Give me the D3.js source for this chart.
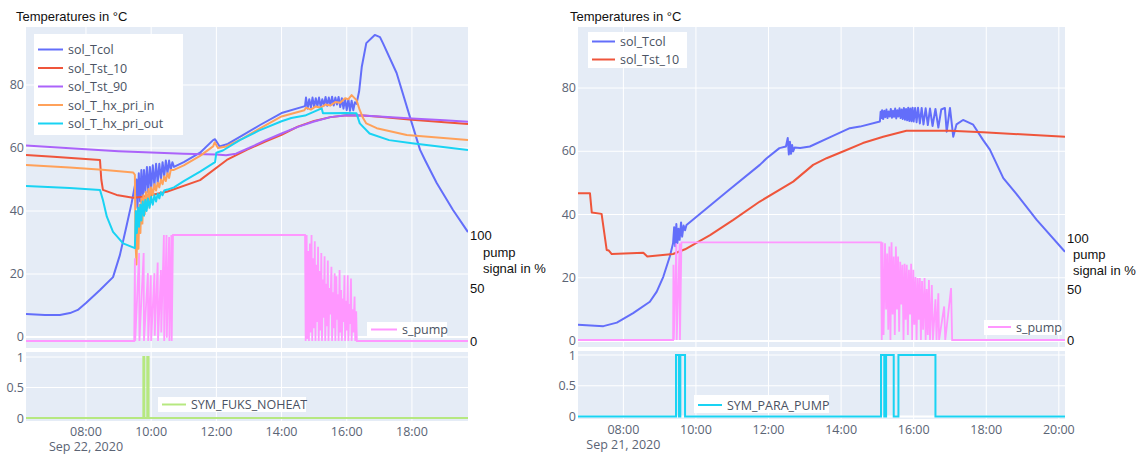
<!DOCTYPE html>
<html>
<head>
<meta charset="utf-8">
<script src="https://cdn.jsdelivr.net/npm/d3@7"></script>
<style>
    body { margin: 0; background: #fff; }
    svg text { font-family: 'Open Sans', sans-serif; }
</style>
</head>
<body>
<svg id="chart" width="1139" height="454"></svg>
<script>
// ---------- left chart, Sep 22 2020 (times in decimal hours) ----------
let leftTcolTime = [6.16, 6.74, 7.2, 7.51, 7.75, 8.0, 8.43, 8.83, 9.04, 9.23, 9.4, 9.5,
    9.55, 9.58, 9.62, 9.66, 9.7, 9.74, 9.78, 9.82, 9.87, 9.91, 9.96, 10.0, 10.05, 10.1, 10.15, 10.2,
    10.25, 10.3, 10.35, 10.4, 10.45, 10.5, 10.55, 10.6, 10.65, 10.7,
    11.0, 11.5, 11.9, 11.96, 12.1, 12.35, 12.8, 13.34, 14.0, 14.72,
    14.75, 14.8, 14.85, 14.9, 14.95, 15.0, 15.05, 15.1, 15.15, 15.2, 15.25, 15.3, 15.35, 15.4, 15.45,
    15.5, 15.55, 15.6, 15.65, 15.7, 15.75, 15.8, 15.85, 15.9, 15.95, 16.0, 16.05, 16.1, 16.15, 16.2,
    16.25, 16.3, 16.38, 16.46, 16.6, 16.86, 17.02, 17.11, 17.53, 17.94, 18.25, 18.4, 18.76, 19.26, 19.72];
let leftTcolVal = [7.3, 7.0, 7.0, 7.6, 8.6, 10.8, 14.9, 19, 26, 34.6, 42.5, 48,
    50, 41, 52, 43, 53, 44, 53, 46, 54, 46, 54, 47, 54.5, 48, 55, 49,
    55, 50, 55.5, 51, 56, 52, 56, 53, 55.5, 54,
    55.5, 58.5, 62.5, 62.8, 60.5, 61.3, 64, 67.3, 71.1, 73.3,
    76, 72.5, 75.5, 72.8, 76, 73, 75.8, 73.2, 76, 73, 75.5, 73.5, 76.2, 73.4, 76,
    73.6, 76.3, 73.5, 76, 73.8, 76.2, 73, 75.8, 72.5, 75.5, 72, 75.5, 71.8, 75, 72,
    74.5, 74, 78, 85.7, 93.3, 95.9, 95.2, 93.3, 83.8, 69.8, 59.4, 56.2, 48.9, 40.3, 33.3];

let leftTst10Time = [6.16, 7.0, 8.43, 8.47, 8.52, 8.94, 9.44, 9.75, 10.48, 11.5, 12.32, 12.93,
    13.5, 14.0, 14.5, 15.0, 15.5, 16.0, 16.5, 17.0, 18.0, 19.0, 19.72];
let leftTst10Val = [57.8, 57.2, 56.2, 50, 46.7, 45.1, 44.2, 44.5, 46.1, 49.8, 56.2, 59.4,
    62, 64.2, 66.8, 68.6, 69.8, 70.4, 70.3, 69.9, 69.0, 68.2, 67.6];

let leftTst90Time = [6.16, 8.0, 9.0, 10.0, 11.0, 12.0, 12.3, 12.6, 13.0, 13.5, 14.0, 14.5,
    15.0, 15.5, 16.0, 16.5, 17.0, 18.0, 19.0, 19.72];
let leftTst90Val = [60.8, 59.6, 59.0, 58.6, 58.2, 57.9, 57.7, 58.2, 60.0, 62.4, 64.6, 66.7,
    68.4, 69.8, 70.4, 70.3, 70.0, 69.4, 68.8, 68.3];

let leftHxInTime = [6.16, 7.5, 8.5, 9.45, 9.5, 9.52, 9.55, 9.58, 9.61, 9.64, 9.67, 9.7, 9.73, 9.76,
    9.8, 9.84, 9.88, 9.92, 9.96, 10.0, 10.05, 10.1, 10.15, 10.2, 10.25, 10.3, 10.35, 10.4, 10.45,
    10.5, 10.55, 10.6, 10.68, 11.0, 11.5, 11.9, 11.95, 12.05, 12.3, 12.8, 13.3, 14.0, 14.7,
    14.75, 14.9, 15.05, 15.2, 15.35, 15.5, 15.65, 15.8, 15.95, 16.05, 16.15, 16.3, 16.4, 16.5,
    16.6, 16.92, 17.84, 19.72];
let leftHxInVal = [54.6, 53.8, 53.1, 52.2, 51.5, 30, 23, 40, 28, 42, 33, 44, 36, 45,
    39, 46, 41, 47, 43, 47.5, 45, 48.5, 46.5, 49, 47.5, 50, 48.5, 51, 49.5,
    52, 50.5, 53, 53, 54.5, 57.5, 60.5, 61.8, 60, 60.5, 63, 66, 70, 72,
    72.8, 72.2, 73.2, 72.8, 73.8, 73.5, 74.6, 74.4, 75.8, 75.5, 76.8, 75.2, 72, 69.5,
    67.8, 66.3, 64.1, 62.5];

let leftHxOutTime = [6.16, 7.5, 8.43, 8.52, 8.64, 8.83, 9.14, 9.5, 9.53, 9.56, 9.6, 9.63, 9.67,
    9.7, 9.74, 9.78, 9.82, 9.86, 9.9, 9.95, 10.0, 10.05, 10.1, 10.15, 10.2, 10.25, 10.3, 10.35,
    10.4, 10.5, 10.7, 11.0, 11.5, 11.96, 12.0, 12.2, 12.72, 13.3, 14.0, 14.3, 14.72, 15.23, 15.27,
    16.0, 16.3, 16.4, 16.7, 17.3, 18.0, 19.72];
let leftHxOutVal = [47.9, 47.3, 46.7, 43.5, 38.2, 33.4, 29.7, 28.2, 40, 33, 41, 35, 42,
    37, 43, 38.5, 43.5, 40, 44, 41, 44.5, 42, 45, 43, 45.5, 44, 46, 45,
    46.5, 46.8, 47.5, 49.5, 52.5, 55.5, 58.5, 59.2, 62.5, 65.5, 68.5, 69.5, 70.3, 72.6, 71.0,
    71.1, 71.0, 67.8, 64.6, 62.5, 61.5, 59.4];

let leftPumpTime = [6.16, 9.48, 9.5, 9.51, 9.63, 9.64, 9.77, 9.78, 9.9, 9.91, 9.99, 10.0, 10.1, 10.11,
    10.2, 10.21, 10.3, 10.31, 10.39, 10.4, 10.47, 10.48, 10.55, 10.56, 10.62, 10.63, 10.67,
    14.72, 14.74, 14.77, 14.79, 14.82, 14.84, 14.87, 14.89, 14.92, 14.94, 14.97, 14.99,
    15.02, 15.04, 15.07, 15.09, 15.12, 15.14, 15.17, 15.19, 15.22, 15.24, 15.27, 15.29,
    15.32, 15.34, 15.37, 15.39, 15.42, 15.44, 15.47, 15.49, 15.53, 15.55, 15.58, 15.6,
    15.63, 15.65, 15.68, 15.7, 15.73, 15.75, 15.78, 15.8, 15.83, 15.85, 15.88, 15.9,
    15.93, 15.95, 15.98, 16.0, 16.03, 16.05, 16.08, 16.1, 16.13, 16.15, 16.18, 16.2,
    16.24, 16.26, 16.29, 16.31, 19.72];
let leftPumpVal = [0, 0, 78, 0, 83, 0, 83, 0, 64, 0, 62, 0, 64, 5,
    74, 0, 67, 8, 100, 0, 100, 3, 98, 0, 100, 0, 100,
    100, 0, 100, 2, 85, 0, 92, 8, 100, 0, 78, 12,
    94, 0, 72, 18, 89, 0, 66, 10, 83, 0, 58, 22,
    80, 0, 54, 14, 76, 0, 50, 25, 70, 0, 46, 12,
    64, 0, 61, 20, 44, 0, 67, 8, 48, 0, 40, 18,
    62, 0, 38, 10, 62, 0, 35, 16, 59, 0, 30, 8,
    42, 0, 28, 0, 0];

let leftFlagTime = [6.16, 9.76, 9.76, 9.79, 9.79, 9.88, 9.88, 9.92, 9.92, 19.72];
let leftFlagVal = [0, 0, 1, 1, 0, 0, 1, 1, 0, 0];

// ---------- right chart, Sep 21 2020 ----------
let rightTcolTime = [6.75, 7.45, 7.82, 8.27, 8.73, 8.92, 9.1, 9.28, 9.37,
    9.4, 9.43, 9.46, 9.49, 9.52, 9.55, 9.59, 9.62, 9.66, 9.7, 9.74,
    10.85, 11.76, 11.95, 12.3, 12.48, 12.53, 12.56, 12.59, 12.62, 12.65, 12.68, 12.72, 12.87,
    13.14, 13.7, 14.24, 14.52, 15.07,
    15.09, 15.11, 15.13, 15.16, 15.19, 15.22, 15.25, 15.28, 15.31, 15.34, 15.37, 15.4, 15.43,
    15.46, 15.49, 15.52, 15.55, 15.58, 15.61, 15.64, 15.67, 15.7, 15.73, 15.76, 15.79, 15.82,
    15.85, 15.88, 15.91, 15.94, 15.97, 16.0, 16.04, 16.08, 16.12, 16.17, 16.22, 16.27, 16.33,
    16.39, 16.45, 16.52, 16.6, 16.68, 16.76, 16.86, 16.91, 17.0, 17.09, 17.18, 17.36, 17.64,
    17.91, 18.1, 18.47, 18.83, 19.39, 20.17];
let rightTcolVal = [5.1, 4.7, 5.8, 8.8, 12.4, 15.6, 20.3, 26.7, 30.9,
    36, 30, 37, 31, 35.5, 32, 37.5, 33, 36.5, 35, 36.7,
    47.2, 55.7, 57.8, 61, 61.5, 64.2, 59, 63, 59.2, 62, 60, 61.2, 61,
    61.5, 64.5, 67.3, 67.8, 69.4,
    72.5, 70.5, 73, 70.2, 72.8, 70.8, 73.2, 70.5, 72.6, 71, 73.4, 70.6, 72.8,
    70.9, 73.5, 70.4, 73, 71, 73.6, 70.5, 73.2, 70.2, 73.7, 70, 73.4, 69.8,
    73.8, 69.6, 73.5, 69.5, 73.8, 69.4, 73.7, 69.2, 73.8, 68.8, 73.7, 68.5, 73.6,
    68.3, 73.5, 68, 73.4, 67.5, 73.2, 73.7, 66.2, 73.7, 64.6, 68.5, 69.9, 68.4,
    63.6, 60.5, 51.5, 46.5, 38.3, 28.2];

let rightTst10Time = [6.75, 7.08, 7.13, 7.4, 7.54, 7.6, 7.68, 8.55, 8.66, 9.37, 9.7, 10.39,
    11.03, 11.76, 12.68, 13.23, 13.6, 14.15, 14.6, 15.16, 15.8, 17.0, 17.91, 20.17];
let rightTst10Val = [46.7, 46.7, 40.6, 40.2, 28.8, 28.6, 27.5, 27.9, 26.7, 27.5, 29, 33.5,
    38.3, 44.1, 50.4, 55.7, 57.8, 60.4, 62.6, 64.6, 66.5, 66.5, 66.0, 64.6];

let rightPumpTime = [6.75, 9.37, 9.38, 9.39, 9.46, 9.47, 9.55, 9.56, 9.6, 15.1,
    15.12, 15.14, 15.17, 15.21, 15.24, 15.27, 15.3, 15.33, 15.36, 15.39, 15.42, 15.45, 15.48,
    15.51, 15.54, 15.57, 15.6, 15.63, 15.66, 15.69, 15.72, 15.75, 15.78, 15.81, 15.84, 15.87,
    15.9, 15.93, 15.96, 15.99, 16.02, 16.05, 16.08, 16.11, 16.14, 16.17, 16.2, 16.23, 16.26,
    16.3, 16.33, 16.36, 16.39, 16.42, 16.45, 16.5, 16.53, 16.6, 16.63, 16.68, 16.7, 16.84,
    16.87, 17.03, 17.06, 20.17];
let rightPumpVal = [0, 0, 74, 0, 95, 0, 95, 0, 96, 96,
    0, 96, 5, 95, 30, 85, 10, 92, 0, 96, 25, 82, 5,
    92, 30, 82, 8, 77, 35, 74, 0, 75, 20, 74, 5, 69,
    25, 75, 0, 69, 15, 62, 0, 61, 20, 61, 0, 58, 10,
    61, 0, 50, 5, 59, 0, 54, 0, 40, 0, 46, 0, 33,
    0, 51, 0, 0];

let rightFlagTime = [6.75, 9.45, 9.45, 9.53, 9.53, 9.57, 9.57, 9.7, 9.7, 15.1, 15.1, 15.19, 15.19,
    15.24, 15.24, 15.45, 15.45, 15.58, 15.58, 16.6, 16.6, 20.17];
let rightFlagVal = [0, 0, 1, 1, 0, 0, 1, 1, 0, 0, 1, 1, 0, 0, 1, 1, 0, 0, 1, 1, 0, 0];

let tempTicks = [0, 20, 40, 60, 80];
let pumpTicks = [0, 50, 100];
let flagTicks = [0, 0.5, 1];

let colors = {
    Tcol: '#636EFA', Tst10: '#EF553B', Tst90: '#AB63FA', hxIn: '#FFA15A', hxOut: '#19D3F3',
    pump: '#FF97FF', fuks: '#B6E880', para: '#19D3F3'
};

function zip(times, vals) {
    return times.map((t, i) => ({t: t, v: vals[i]}));
}

let svg = d3.select('#chart');

function drawPanel(p) {
    let toDate = h => new Date(p.day.getTime() + h * 3600e3);
    let xScale = d3.scaleTime()
        .domain([toDate(p.hours[0]), toDate(p.hours[1])])
        .range([p.left, p.right]);
    let yTemp = d3.scaleLinear().domain(p.tempDomain).range([p.mainBottom, p.mainTop]);
    let yPump = d3.scaleLinear().domain(p.pumpDomain).range([p.mainBottom, p.mainTop]);
    let yFlag = d3.scaleLinear().domain(p.flagDomain).range([p.subBottom, p.subTop]);
    let xTicks = xScale.ticks(d3.timeHour.every(2));
    let g = svg.append('g');

    // title
    g.append('text')
        .attr('x', p.titleX).attr('y', 21)
        .style('font-family', "'Liberation Sans', Arial, sans-serif")
        .style('font-size', '13px')
        .attr('fill', '#111')
        .text('Temperatures in °C');

    // backgrounds
    [[p.mainTop, p.mainBottom], [p.subTop, p.subBottom]].forEach(([t, b]) => {
        g.append('rect')
            .attr('x', p.left).attr('y', t)
            .attr('width', p.right - p.left).attr('height', b - t)
            .attr('fill', '#E5ECF6');
    });

    // grid
    let grid = g.append('g').attr('stroke', '#fff');
    xTicks.forEach(d => {
        [[p.mainTop, p.mainBottom], [p.subTop, p.subBottom]].forEach(([t, b]) => {
            grid.append('line')
                .attr('x1', xScale(d)).attr('x2', xScale(d))
                .attr('y1', t).attr('y2', b).attr('stroke-width', 1);
        });
    });
    tempTicks.forEach(v => {
        grid.append('line')
            .attr('x1', p.left).attr('x2', p.right)
            .attr('y1', yTemp(v)).attr('y2', yTemp(v))
            .attr('stroke-width', v === 0 ? 2 : 1);
    });
    flagTicks.forEach(v => {
        grid.append('line')
            .attr('x1', p.left).attr('x2', p.right)
            .attr('y1', yFlag(v)).attr('y2', yFlag(v))
            .attr('stroke-width', v === 0 ? 2 : 1);
    });

    // y axis labels (left)
    let tickStyle = sel => sel.style('font-size', '12.5px').attr('fill', '#5b6475');
    tempTicks.forEach(v => {
        g.append('text').attr('x', p.left - 2).attr('y', yTemp(v) + 4)
            .attr('text-anchor', 'end').text(v).call(tickStyle);
    });
    flagTicks.forEach(v => {
        g.append('text').attr('x', p.left - 2).attr('y', yFlag(v) + 4.5)
            .attr('text-anchor', 'end').text(v).call(tickStyle);
    });

    // secondary axis for pump signal
    let yAx2 = d3.axisRight(yPump).tickValues(pumpTicks).tickSize(0).tickPadding(2);
    let y2Group = g.append('g')
        .attr('transform', `translate(${p.right},0)`)
        .call(yAx2);
    y2Group.select('.domain').remove();
    y2Group.selectAll('text')
        .style('font-family', "'Liberation Sans', Arial, sans-serif")
        .style('font-size', '13px')
        .attr('fill', '#111');
    ['pump', 'signal in %'].forEach((s, i) => {
        g.append('text')
            .attr('x', p.right + p.pumpTitleDx).attr('y', p.pumpTitleY + i * 16)
            .style('font-family', "'Liberation Sans', Arial, sans-serif")
            .style('font-size', '13px')
            .attr('fill', '#111')
            .text(s);
    });

    // x axis labels
    xTicks.forEach((d, i) => {
        g.append('text').attr('x', xScale(d)).attr('y', p.subBottom + 14.5)
            .attr('text-anchor', 'middle').text(d3.timeFormat('%H:%M')(d)).call(tickStyle);
        if (i === 0) {
            g.append('text').attr('x', xScale(d)).attr('y', p.subBottom + 29.5)
                .attr('text-anchor', 'middle').text(d3.timeFormat('%b %-d, %Y')(d)).call(tickStyle);
        }
    });

    // clip paths
    let clipMain = `clipMain${p.id}`, clipSub = `clipSub${p.id}`;
    let defs = g.append('defs');
    defs.append('clipPath').attr('id', clipMain).append('rect')
        .attr('x', p.left).attr('y', p.mainTop)
        .attr('width', p.right - p.left).attr('height', p.mainBottom - p.mainTop);
    defs.append('clipPath').attr('id', clipSub).append('rect')
        .attr('x', p.left).attr('y', p.subTop - 2)
        .attr('width', p.right - p.left).attr('height', p.subBottom - p.subTop + 4);

    let lineChart = g.append('g').attr('clip-path', `url(#${clipMain})`);
    let tempLine = d3.line().x(d => xScale(toDate(d.t))).y(d => yTemp(d.v));
    let pumpLine = d3.line().x(d => xScale(toDate(d.t))).y(d => yPump(d.v));
    let flagLine = d3.line().x(d => xScale(toDate(d.t))).y(d => yFlag(d.v));

    p.temps.forEach(s => {
        lineChart.append('path')
            .datum(zip(s.time, s.val))
            .attr('d', tempLine)
            .attr('fill', 'none')
            .attr('stroke', s.color)
            .attr('stroke-width', 2)
            .attr('stroke-linejoin', 'round');
    });
    lineChart.append('path')
        .datum(zip(p.pump.time, p.pump.val))
        .attr('d', pumpLine)
        .attr('fill', 'none')
        .attr('stroke', colors.pump)
        .attr('stroke-width', 1.8);

    g.append('g').attr('clip-path', `url(#${clipSub})`)
        .append('path')
        .datum(zip(p.flag.time, p.flag.val))
        .attr('d', flagLine)
        .attr('fill', 'none')
        .attr('stroke', p.flag.color)
        .attr('stroke-width', 2);

    // legends
    function legend(box, items) {
        let lg = g.append('g');
        lg.append('rect')
            .attr('x', box.x).attr('y', box.y)
            .attr('width', box.w).attr('height', box.h)
            .attr('fill', '#fff');
        items.forEach((it, i) => {
            let cy = box.y + box.first + i * box.step;
            lg.append('line')
                .attr('x1', box.x + 4).attr('x2', box.x + 4 + box.lineW)
                .attr('y1', cy).attr('y2', cy)
                .attr('stroke', it.color).attr('stroke-width', 2);
            lg.append('text')
                .attr('x', box.x + 9 + box.lineW).attr('y', cy + 4.5)
                .style('font-size', '12.5px')
                .attr('fill', '#4a5262')
                .text(it.name);
        });
    }
    legend(p.legendMain, p.temps);
    legend(p.legendPump, [{name: 's_pump', color: colors.pump}]);
    legend(p.legendFlag, [p.flag]);
}

drawPanel({
    id: 'L', day: new Date(2020, 8, 22), hours: [6.16, 19.72],
    left: 26, right: 468, titleX: 16,
    mainTop: 27, mainBottom: 348, subTop: 352, subBottom: 421,
    tempDomain: [-3.49, 98.41], pumpDomain: [-6.6, 296.2], flagDomain: [-0.049, 1.082],
    pumpTitleDx: 15, pumpTitleY: 257,
    temps: [
        {name: 'sol_Tcol', color: colors.Tcol, time: leftTcolTime, val: leftTcolVal},
        {name: 'sol_Tst_10', color: colors.Tst10, time: leftTst10Time, val: leftTst10Val},
        {name: 'sol_Tst_90', color: colors.Tst90, time: leftTst90Time, val: leftTst90Val},
        {name: 'sol_T_hx_pri_in', color: colors.hxIn, time: leftHxInTime, val: leftHxInVal},
        {name: 'sol_T_hx_pri_out', color: colors.hxOut, time: leftHxOutTime, val: leftHxOutVal}
    ],
    pump: {time: leftPumpTime, val: leftPumpVal},
    flag: {name: 'SYM_FUKS_NOHEAT', color: colors.fuks, time: leftFlagTime, val: leftFlagVal},
    legendMain: {x: 34, y: 34, w: 149, h: 101, first: 15.5, step: 18.5, lineW: 25},
    legendPump: {x: 367, y: 322, w: 80, h: 15, first: 7.5, step: 0, lineW: 26},
    legendFlag: {x: 158, y: 397, w: 148, h: 15, first: 7.5, step: 0, lineW: 24}
});

drawPanel({
    id: 'R', day: new Date(2020, 8, 21), hours: [6.75, 20.17],
    left: 578, right: 1065, titleX: 570,
    mainTop: 27, mainBottom: 347, subTop: 351, subBottom: 419,
    tempDomain: [-1.9, 99.3], pumpDomain: [-6.9, 307.8], flagDomain: [-0.04, 1.065],
    pumpTitleDx: 8, pumpTitleY: 258.5,
    temps: [
        {name: 'sol_Tcol', color: colors.Tcol, time: rightTcolTime, val: rightTcolVal},
        {name: 'sol_Tst_10', color: colors.Tst10, time: rightTst10Time, val: rightTst10Val}
    ],
    pump: {time: rightPumpTime, val: rightPumpVal},
    flag: {name: 'SYM_PARA_PUMP', color: colors.para, time: rightFlagTime, val: rightFlagVal},
    legendMain: {x: 588, y: 32, w: 99, h: 36, first: 9.5, step: 18, lineW: 23},
    legendPump: {x: 984, y: 320, w: 78, h: 15, first: 7, step: 0, lineW: 23},
    legendFlag: {x: 694, y: 395, w: 135, h: 18, first: 10, step: 0, lineW: 24}
});
</script>
</body>
</html>
